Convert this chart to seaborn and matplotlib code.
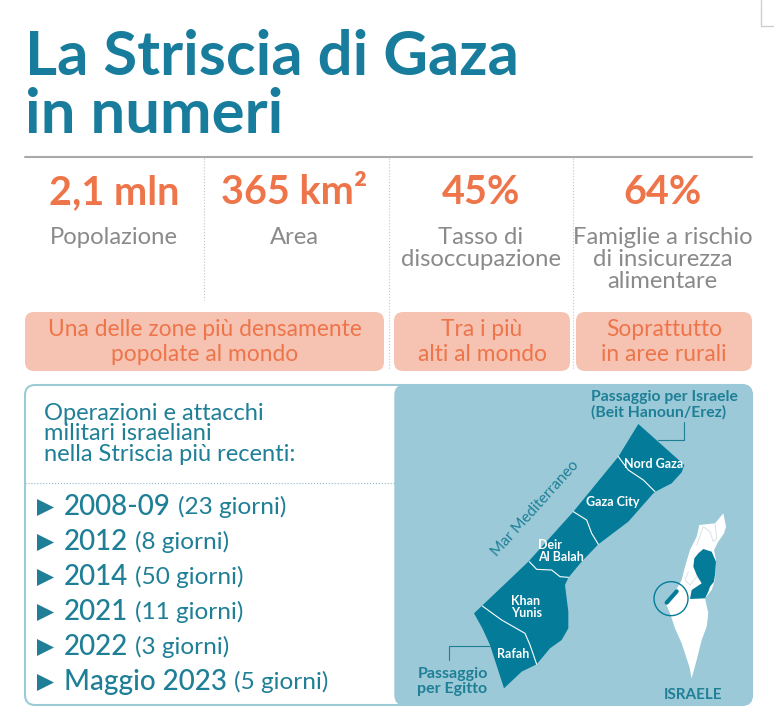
import numpy as np
import matplotlib
matplotlib.use('Agg')
import matplotlib.pyplot as plt
from matplotlib.patches import FancyBboxPatch, Polygon, Circle
import seaborn as sns

sns.set_theme(style='white')
plt.rcParams['font.family'] = ['Lato', 'DejaVu Sans']

TITLE = '#187c9c'
TEAL = '#1e7f96'
DARK = '#047c99'
ORANGE = '#ee7449'
PEACH = '#f6c3b3'
GREY = '#8a8a8a'
SEA = '#9bc9d8'

# Stats row
stat_values = ['2,1 mln', '365 km²', '45%', '64%']
stat_labels = ['Popolazione', 'Area', 'Tasso di\ndisoccupazione',
               'Famiglie a rischio\ndi insicurezza\nalimentare']
stat_notes = ['Una delle zone più densamente\npopolate al mondo',
              'Tra i più\nalti al mondo', 'Soprattutto\nin aree rurali']

# Operations list
op_years = ['2008-09', '2012', '2014', '2021', '2022', 'Maggio 2023']
op_days = [23, 8, 50, 11, 3, 5]

# Map shapes, in pixels of the 3x crop of the map panel
gaza_x = [730, 868, 860, 830, 785, 775, 700, 610, 560, 520, 510, 520, 520, 500, 465, 425, 380, 327, 285, 262, 237, 400, 535, 670]
gaza_y = [117, 240, 262, 295, 318, 325, 410, 478, 530, 578, 600, 680, 730, 765, 790, 838, 860, 910, 780, 730, 685, 530, 380, 215]
israel_x = [985, 993, 987, 970, 957, 963, 960, 950, 930, 940, 935, 920, 905, 890, 883, 860, 840, 825, 813, 843, 860, 870, 885, 905, 913, 960]
israel_y = [385, 425, 445, 470, 495, 525, 585, 615, 640, 685, 725, 765, 825, 880, 845, 775, 730, 685, 657, 615, 585, 545, 495, 455, 420, 415]
bank_x = [910, 925, 950, 963, 960, 957, 945, 940, 930, 885, 890, 920, 905, 895, 898]
bank_y = [505, 492, 500, 530, 570, 590, 605, 620, 640, 642, 615, 595, 570, 545, 520]
israel_inner = [
    ([960, 965, 955, 945, 925, 905], [415, 460, 470, 440, 425, 480]),
    ([880, 870, 885, 905, 920], [560, 585, 600, 575, 590]),
]
border_lines = [
    ([670, 700, 745, 780], [215, 255, 285, 320]),
    ([535, 575, 590, 610], [380, 405, 445, 478]),
    ([403, 425, 470, 495, 520], [530, 553, 555, 575, 577]),
    ([262, 320, 390, 405, 425], [663, 705, 745, 780, 838]),
]
map_labels = [
    ('Nord Gaza', 777, 238), ('Gaza City', 652, 351), ('Deir\nAl Balah', 430, 498),
    ('Khan\nYunis', 348, 665), ('Rafah', 356, 806),
]


def mx(v):
    return np.asarray(v) / 3 + 395


def my(v):
    return np.asarray(v) / 3 + 385


fig = plt.figure(figsize=(7.74, 7.11), dpi=100)
ax = fig.add_axes([0, 0, 1, 1])
ax.set_xlim(0, 774)
ax.set_ylim(711, 0)
ax.axis('off')

# Corner mark
ax.plot([760.5, 760.5, 774], [0, 26, 26], color='#d2cfcb', lw=1)

# Title
ax.text(25, 75, 'La Striscia di Gaza', fontsize=44.4, fontweight='bold', color=TITLE, va='baseline')
ax.text(25, 133, 'in numeri', fontsize=44.4, fontweight='bold', color=TITLE, va='baseline')
ax.plot([25, 752], [157, 157], color='#a9a9a9', lw=1.5)

# Dotted separators
for x, y1 in zip([204, 389, 573], [300, 370, 370]):
    ax.plot([x, x], [158, y1], color='#c4c4c4', lw=0.8, ls=':')

# Stats
stat_x = [114, 294, 481, 662.5]
for x, val, lab in zip(stat_x, stat_values, stat_labels):
    ax.text(x, 193, val, fontsize=28.5, fontweight='bold', color=ORANGE, ha='center', va='center')
    ax.text(x, 227, lab, fontsize=17.2, color=GREY, ha='center', va='top', linespacing=1.07)

# Notes
boxes = [(25, 384), (394, 570), (576, 752)]
for (x0, x1), note in zip(boxes, stat_notes):
    ax.add_patch(FancyBboxPatch((x0, 312), x1 - x0, 59, boxstyle='round,pad=0,rounding_size=9',
                                fc=PEACH, ec='none', zorder=1))
    ax.text((x0 + x1) / 2, 342, note, fontsize=16.4, color=ORANGE, ha='center', va='center', linespacing=1.2, zorder=2)

# Bottom panel
ax.add_patch(FancyBboxPatch((25, 385), 727, 320, boxstyle='round,pad=0,rounding_size=10',
                            fc='white', ec='#9ccbd6', lw=1.5, zorder=1))
ax.add_patch(FancyBboxPatch((395, 385), 357, 320, boxstyle='round,pad=0,rounding_size=10',
                            fc=SEA, ec=SEA, lw=1, zorder=2))

ax.text(44, 434, 'Operazioni e attacchi\nmilitari israeliani\nnella Striscia più recenti:', fontsize=17,
        color=TEAL, va='center', linespacing=0.97)
ax.plot([25, 395], [483, 483], color='#8fb8c4', lw=0.8, ls=':')

op_y = np.array([507, 542, 577, 612, 647, 682])
sns.scatterplot(x=np.full(6, 45), y=op_y, marker='>', s=150, color=TEAL, linewidth=0, ax=ax, zorder=3, legend=False)
for y, yr, d in zip(op_y, op_years, op_days):
    t = ax.text(64, y, yr, fontsize=20, color=TEAL, va='center', fontweight='medium')
    fig.canvas.draw()
    bb = t.get_window_extent()
    ax.text(bb.x1 + 7, y, f'({d} giorni)', fontsize=17.6, color=TEAL, va='center')

ax.set_xlim(0, 774)
ax.set_ylim(711, 0)

# Map
ax.add_patch(Polygon(np.c_[mx(gaza_x), my(gaza_y)], fc=DARK, ec='none', zorder=3))
for bx, by in border_lines:
    ax.plot(mx(bx), my(by), color='white', lw=0.8, zorder=4)
ax.add_patch(Polygon(np.c_[mx(israel_x), my(israel_y)], fc='white', ec='none', zorder=3))
for bx, by in israel_inner:
    ax.plot(mx(bx), my(by), color='#d5dfe3', lw=0.6, zorder=4)
ax.add_patch(Polygon(np.c_[mx(bank_x), my(bank_y)], fc=DARK, ec='none', zorder=4))
ax.add_patch(Circle((mx(828), my(641)), 17, fc='none', ec=DARK, lw=1, zorder=5))
ax.plot(mx([815, 845]), my([653, 619]), color=DARK, lw=3, zorder=5)

for lab, x, y in map_labels:
    ha = 'left' if lab.startswith('Deir') or lab.startswith('Khan') else 'center'
    ax.text(mx(x), my(y), lab, fontsize=9, fontweight='bold', color='white', ha=ha, va='center', ma=ha, zorder=6, linespacing=1.0)

ax.text(mx(587), my(60), 'Passaggio per Israele\n(Beit Hanoun/Erez)', fontsize=11.3, fontweight='bold', color=TEAL,
        va='center', zorder=6, linespacing=1.05)
ax.plot(mx([868, 868, 790]), my([110, 165, 165]), color=TEAL, lw=0.8, zorder=3)
ax.text(mx(67), my(890), 'Passaggio\nper Egitto', fontsize=11.5, fontweight='bold', color=TEAL, va='center', zorder=6, linespacing=1.15)
ax.plot(mx([163, 163, 285]), my([825, 782, 782]), color=TEAL, lw=0.8, zorder=3)
ax.text(mx(893), my(929), 'ISRAELE', fontsize=11, fontweight='bold', color=TEAL, ha='center', va='center', zorder=6)
ax.text(mx(422), my(370), 'Mar Mediterraneo', fontsize=11, color=TEAL, rotation=48, ha='center', va='center', zorder=6,
        rotation_mode='anchor')

fig.savefig('out.png', dpi=100)
